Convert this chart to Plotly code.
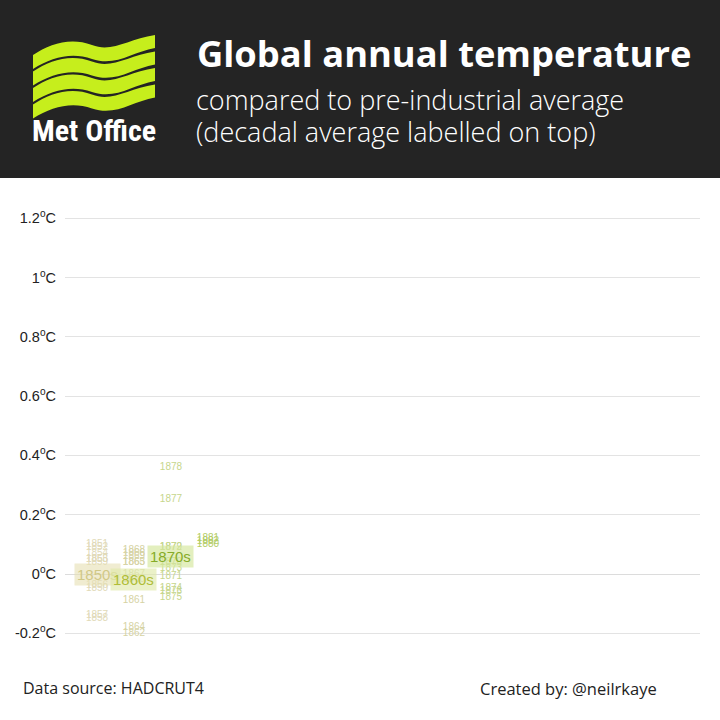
import plotly.graph_objects as go

# ---------------- data ----------------
years = list(range(1850, 1883))
anomaly = [-0.05, 0.10, 0.09, 0.05, 0.07, 0.05, -0.04, -0.14, -0.15, 0.04,
           -0.02, -0.09, -0.20, 0.04, -0.18, 0.04, 0.07, 0.00, 0.08, 0.06,
           0.04, -0.01, 0.09, 0.02, -0.05, -0.08, -0.06, 0.25, 0.36, 0.09,
           0.10, 0.12, 0.11]
decades = [1850, 1860, 1870]
decade_means = [0.00, -0.02, 0.06]
decade_labels = ["1850s", "1860s", "1870s"]
tick_vals = [-0.2, 0, 0.2, 0.4, 0.6, 0.8, 1.0, 1.2]
tick_text = ["-0.2<sup>o</sup>C", "0<sup>o</sup>C", "0.2<sup>o</sup>C", "0.4<sup>o</sup>C",
             "0.6<sup>o</sup>C", "0.8<sup>o</sup>C", "1<sup>o</sup>C", "1.2<sup>o</sup>C"]

# ---------------- styles ----------------
year_colors = {1850: "#e1dab8", 1860: "#d6d3a4", 1870: "#c6d68c", 1880: "#b3cd66"}
dec_text_colors = {1850: "#d0c886", 1860: "#afbd38", 1870: "#86ab28"}
dec_bg_colors = {1850: "rgba(230,224,178,0.6)", 1860: "rgba(224,233,170,0.65)",
                 1870: "rgba(212,231,155,0.65)"}

W = H = 720
def px(x):
    return x / W
def py(y):
    return 1 - y / H

year_x = [y // 10 * 10 for y in years]
fig = go.Figure()
fig.add_trace(go.Scatter(
    x=year_x, y=anomaly, mode="text",
    text=[str(y) for y in years],
    textposition="middle center",
    textfont=dict(family="Liberation Sans, Arial", size=10,
                  color=[year_colors[d] for d in year_x]),
    hoverinfo="skip", showlegend=False,
))

annotations = []
for d, m, lab in zip(decades, decade_means, decade_labels):
    annotations.append(dict(
        x=d, y=m, xref="x", yref="y", text=lab, showarrow=False,
        font=dict(family="Liberation Sans, Arial", size=15, color=dec_text_colors[d]),
        bgcolor=dec_bg_colors[d], borderpad=2,
    ))

# header texts
annotations += [
    dict(x=px(195), y=py(53), xref="paper", yref="paper", xanchor="left", yanchor="middle",
         text="<b>Global annual temperature</b>", showarrow=False,
         font=dict(family="Open Sans", size=36.3, color="white")),
    dict(x=px(194), y=py(100), xref="paper", yref="paper", xanchor="left", yanchor="middle",
         text="compared to pre-industrial average", showarrow=False,
         font=dict(family="Open Sans", size=27, color="white", weight=300)),
    dict(x=px(194), y=py(131), xref="paper", yref="paper", xanchor="left", yanchor="middle",
         text="(decadal average labelled on top)", showarrow=False,
         font=dict(family="Open Sans", size=27, color="white", weight=300)),
    dict(x=px(94), y=py(130), xref="paper", yref="paper", xanchor="center", yanchor="middle",
         text="<b>Met Office</b>", showarrow=False,
         font=dict(family="Liberation Sans Narrow, Roboto Condensed, Roboto", size=30, color="white")),
    dict(x=px(21), y=py(688), xref="paper", yref="paper", xanchor="left", yanchor="middle",
         text="Data source: HADCRUT4", showarrow=False,
         font=dict(family="Open Sans", size=16, color="#222222")),
    dict(x=px(478), y=py(688), xref="paper", yref="paper", xanchor="left", yanchor="middle",
         text="Created by: @neilrkaye", showarrow=False,
         font=dict(family="Open Sans", size=16.5, color="#222222")),
]

shapes = [dict(type="rect", xref="paper", yref="paper", x0=0, x1=1, y0=py(178), y1=1,
               fillcolor="#242424", line=dict(width=0), layer="below")]

# logo waves
def wave(i):
    dy = i * 16.5
    p = "M {},{} ".format(px(33), py(55 + dy))
    p += "C {},{} {},{} {},{} ".format(px(50), py(44 + dy), px(70), py(37 + dy), px(92), py(45 + dy))
    p += "C {},{} {},{} {},{} ".format(px(112), py(53 + dy), px(128), py(39 + dy), px(155), py(35 + dy))
    p += "L {},{} ".format(px(155), py(48 + dy))
    p += "C {},{} {},{} {},{} ".format(px(132), py(52 + dy), px(116), py(67 + dy), px(92), py(59 + dy))
    p += "C {},{} {},{} {},{} Z".format(px(72), py(52 + dy), px(52), py(57 + dy), px(33), py(69 + dy))
    return dict(type="path", xref="paper", yref="paper", path=p,
                fillcolor="#c6ee1c", line=dict(width=0), layer="above")

for i in range(4):
    shapes.append(wave(i))

fig.update_layout(
    width=W, height=H,
    margin=dict(l=0, r=0, t=0, b=0),
    paper_bgcolor="white", plot_bgcolor="white",
    showlegend=False,
    annotations=annotations, shapes=shapes,
    xaxis=dict(domain=[px(65), px(700)], range=[1841.35, 2013.0],
               showgrid=False, zeroline=False, showticklabels=False, ticks=""),
    yaxis=dict(domain=[py(650), py(200)], range=[-0.2563, 1.2614],
               tickvals=tick_vals, ticktext=tick_text, ticks="",
               showgrid=True, gridcolor="#e3e3e3", gridwidth=1,
               zeroline=True, zerolinecolor="#dcdcdc", zerolinewidth=1,
               ticklabelstandoff=8,
               tickfont=dict(family="Liberation Sans, Arial", size=14.5, color="#222222")),
)

fig.write_html("out.html", config={"displayModeBar": False},
               post_script="document.body.style.margin='0';document.body.style.overflow='hidden';")
